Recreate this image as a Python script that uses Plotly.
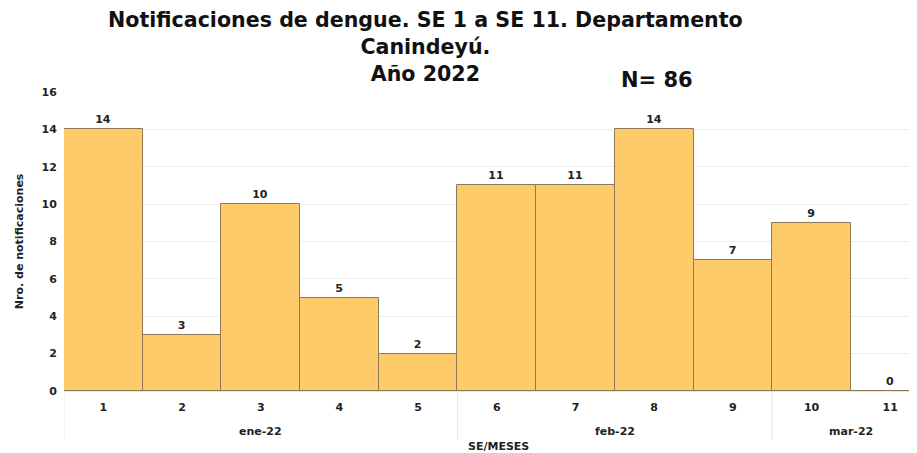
import plotly.graph_objects as go

semanas = [1, 2, 3, 4, 5, 6, 7, 8, 9, 10, 11]
notificaciones = [14, 3, 10, 5, 2, 11, 11, 14, 7, 9, 0]
meses = ["ene-22", "feb-22", "mar-22"]
semanas_por_mes = [[1, 2, 3, 4, 5], [6, 7, 8, 9], [10, 11]]
y_ticks = [0, 2, 4, 6, 8, 10, 12, 14, 16]

FONT = "Verdana, DejaVu Sans, sans-serif"

fig = go.Figure()
fig.add_trace(go.Bar(
    x=semanas, y=notificaciones,
    marker=dict(color="#FECB6A", line=dict(color="#8C7A55", width=1)),
    text=[f"<b>{v}</b>" for v in notificaciones], textposition="outside",
    textfont=dict(family=FONT, size=11, color="#222"),
    cliponaxis=False, width=1.0,
))

annotations = []
shapes = []
for mes, sems in zip(meses, semanas_por_mes):
    annotations.append(dict(x=(sems[0] + sems[-1]) / 2, y=-0.137, xref="x", yref="paper",
                            text=f"<b>{mes}</b>", showarrow=False, xanchor="center", yanchor="middle",
                            font=dict(family=FONT, size=11, color="#222")))
    shapes.append(dict(type="line", xref="x", yref="paper", x0=sems[0] - 0.5, x1=sems[0] - 0.5,
                       y0=0, y1=-0.165, line=dict(color="#E6E6E6", width=1)))

annotations.append(dict(x=0.509, y=-0.187, xref="paper", yref="paper", text="<b>SE/MESES</b>",
                        showarrow=False, xanchor="center", yanchor="middle",
                        font=dict(family=FONT, size=11, color="#222")))
annotations.append(dict(x=0.695, y=1.040, xref="paper", yref="paper", text="<b>N= 86</b>",
                        showarrow=False, xanchor="center", yanchor="middle",
                        font=dict(family=FONT, size=21, color="#111")))
annotations.append(dict(x=0.424, y=1.150, xref="paper", yref="paper",
                        text="<b>Notificaciones de dengue. SE 1 a SE 11. Departamento<br>Canindeyú.<br>Año 2022</b>",
                        showarrow=False, yanchor="middle", xanchor="center", align="center",
                        font=dict(family=FONT, size=20.6, color="#111")))
annotations.append(dict(x=-0.052, y=0.5, xref="paper", yref="paper", text="<b>Nro. de notificaciones</b>",
                        showarrow=False, textangle=-90, xanchor="center", yanchor="middle",
                        font=dict(family=FONT, size=11, color="#222")))

fig.update_layout(
    width=917, height=453,
    margin=dict(l=56, r=8, t=84, b=70),
    paper_bgcolor="white", plot_bgcolor="white",
    bargap=0, showlegend=False,
    font=dict(family=FONT, color="#222"),
    xaxis=dict(tickmode="array", tickvals=semanas, ticktext=[f"<b>{s}</b>" for s in semanas],
               range=[0.5, 11.34], showgrid=False, zeroline=False,
               ticks="outside", ticklen=6, tickcolor="rgba(0,0,0,0)",
               tickfont=dict(family=FONT, size=11, color="#222"), automargin=False,
               showline=True, linecolor="#E6E6E6"),
    yaxis=dict(tickmode="array", tickvals=y_ticks, ticktext=[f"<b>{t}</b>" for t in y_ticks],
               range=[0, 16], showgrid=True, gridcolor="#EDEDED", zeroline=False,
               ticks="outside", ticklen=4, tickcolor="rgba(0,0,0,0)",
               tickfont=dict(family=FONT, size=11, color="#222"), automargin=False),
    annotations=annotations, shapes=shapes,
)

fig.write_html("out.html")
